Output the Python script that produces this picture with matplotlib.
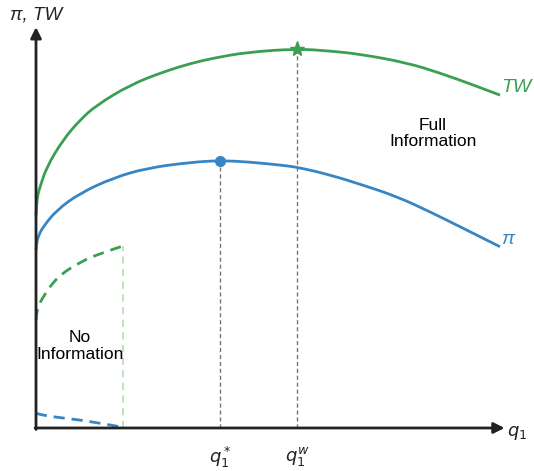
import matplotlib
matplotlib.use('Agg')
import matplotlib.pyplot as plt
from matplotlib.path import Path
from matplotlib.patches import PathPatch

plt.rcParams['font.family'] = ['Liberation Sans', 'DejaVu Sans']

# curves (q1 on 0..10, value on 0..100)
q_tw = [0, 0.01, 0.04, 0.086, 0.23, 0.58, 0.95, 1.31, 2.03, 2.74, 3.32, 3.81, 4.55, 5.63, 6.34, 6.98, 8.0, 8.71, 9.42, 10]
tw = [56.0, 58.5, 61.5, 63.4, 68.7, 75.8, 81.1, 85.0, 90.3, 93.7, 95.9, 97.3, 98.9, 99.8, 99.2, 98.4, 96.1, 93.4, 90.3, 87.6]

q_pi = [0, 0.01, 0.05, 0.15, 0.45, 0.95, 1.66, 2.39, 3.32, 3.97, 4.6, 5.26, 5.65, 6.34, 7.05, 7.78, 8.49, 9.2, 10]
pi = [46.8, 48.5, 50.5, 52.9, 57.4, 61.8, 65.8, 68.4, 69.9, 70.4, 70.0, 69.2, 68.6, 66.6, 63.9, 60.9, 56.9, 52.6, 47.7]

# no-information branch
q_ni = [0, 0.01, 0.05, 0.15, 0.45, 0.95, 1.4, 1.875]
tw_ni = [28.4, 30.0, 32.0, 34.5, 39.7, 43.7, 46.0, 47.9]
pi_ni = [3.9, 3.85, 3.7, 3.4, 2.8, 2.1, 1.2, 0.2]

q_star, pi_star = 3.97, 70.3
q_w, tw_w = 5.63, 99.7

green = '#3b9f52'
blue = '#3786c3'


def smooth_curve(ax, xs, ys, **kw):
    # quadratic bezier through midpoints, read points used as control points
    verts = [(xs[0], ys[0])]
    codes = [Path.MOVETO]
    for i in range(1, len(xs) - 1):
        mx = (xs[i] + xs[i + 1]) / 2
        my = (ys[i] + ys[i + 1]) / 2
        if i == len(xs) - 2:
            mx, my = xs[-1], ys[-1]
        verts += [(xs[i], ys[i]), (mx, my)]
        codes += [Path.CURVE3, Path.CURVE3]
    ax.add_patch(PathPatch(Path(verts, codes), fill=False, capstyle='butt', **kw))


fig = plt.figure(figsize=(5.34, 4.71), dpi=100)
ax = fig.add_axes([0, 0, 1, 1])
ax.set_xlim(-0.776, 10.733)
ax.set_ylim(-11.32, 112.63)
ax.axis('off')

# axes with arrows
ax.annotate('', xy=(10.1, 0), xytext=(-0.02, 0),
            arrowprops=dict(arrowstyle='-|>', color='#222222', lw=2, mutation_scale=16,
                            shrinkA=0, shrinkB=0))
ax.annotate('', xy=(0, 105.5), xytext=(0, -0.4),
            arrowprops=dict(arrowstyle='-|>', color='#222222', lw=2, mutation_scale=16,
                            shrinkA=0, shrinkB=0))

# guide lines
ax.plot([q_star, q_star], [0, pi_star], ls=(0, (3, 2)), color='#777777', lw=1)
ax.plot([q_w, q_w], [0, tw_w], ls=(0, (3, 2)), color='#777777', lw=1)
ax.plot([q_ni[-1], q_ni[-1]], [0, tw_ni[-1]], ls=(0, (4, 3)), color='#b9e2b4', lw=1.3)

smooth_curve(ax, q_tw, tw, edgecolor=green, lw=2)
smooth_curve(ax, q_pi, pi, edgecolor=blue, lw=2)
smooth_curve(ax, q_ni, tw_ni, edgecolor=green, lw=2, ls=(0, (4, 2.5)))
smooth_curve(ax, q_ni, pi_ni, edgecolor=blue, lw=2, ls=(0, (4, 2.5)))

ax.plot([q_star], [pi_star], 'o', color=blue, ms=7)
ax.plot([q_w], [tw_w], '*', color=green, ms=11)

# labels
ax.text(0, 107.6, 'π, TW', ha='center', va='baseline', fontsize=13.5, style='italic', color='#222222')
ax.text(10.15, -1.3, '$q_1$', ha='left', va='center', fontsize=13, color='#222222')
ax.text(q_star, -4.5, '$q_1^*$', ha='center', va='top', fontsize=13, color='#222222')
ax.text(q_w, -4.5, '$q_1^w$', ha='center', va='top', fontsize=13, color='#222222')
ax.text(10.03, tw[-1] + 2, 'TW', ha='left', va='center', fontsize=14, style='italic', color=green)
ax.text(10.03, pi[-1] + 2, 'π', ha='left', va='center', fontsize=14, style='italic', color=blue)
ax.text(8.55, 77.5, 'Full\nInformation', ha='center', va='center', fontsize=12.5, linespacing=1.1)
ax.text(0.95, 21.6, 'No\nInformation', ha='center', va='center', fontsize=12.5, linespacing=1.1)

fig.savefig('out.png', dpi=100)
